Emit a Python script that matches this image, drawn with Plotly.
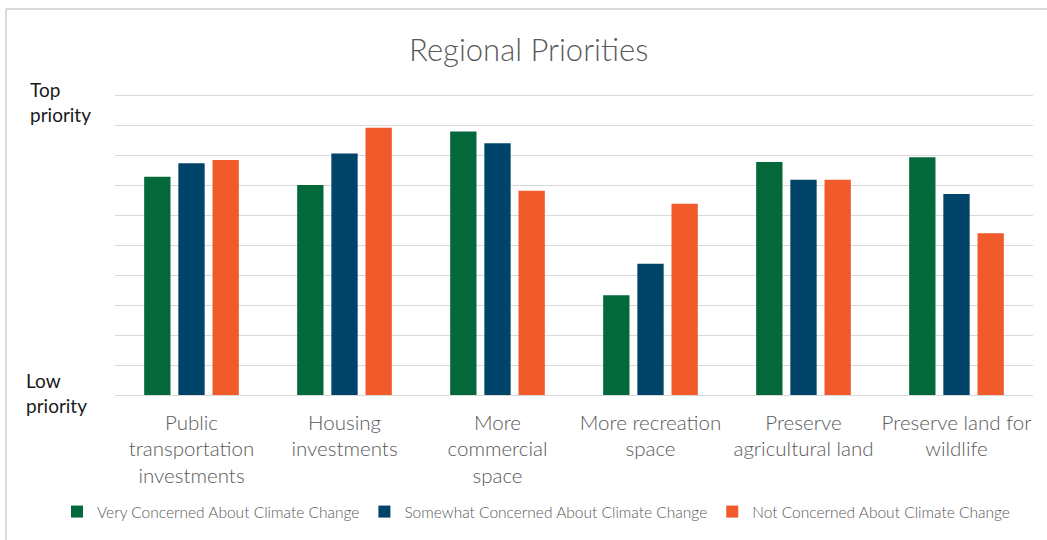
import plotly.graph_objects as go

# Survey results: average priority score (0 = low priority, 10 = top priority)
categories = [
    "Public<br>transportation<br>investments",
    "Housing<br>investments",
    "More<br>commercial<br>space",
    "More recreation<br>space",
    "Preserve<br>agricultural land",
    "Preserve land for<br>wildlife",
]
very_concerned = [7.30, 7.02, 8.81, 3.34, 7.79, 7.95]
somewhat_concerned = [7.75, 8.08, 8.42, 4.39, 7.20, 6.72]
not_concerned = [7.86, 8.94, 6.83, 6.40, 7.20, 5.41]

series_names = [
    "Very Concerned About Climate Change",
    "Somewhat Concerned About Climate Change",
    "Not Concerned About Climate Change",
]
series_values = [very_concerned, somewhat_concerned, not_concerned]
series_colors = ["#03693A", "#00446A", "#F15A2B"]

FONT = "Lato, 'Open Sans', sans-serif"

fig = go.Figure()
for name, vals, color in zip(series_names, series_values, series_colors):
    fig.add_trace(go.Bar(
        x=categories, y=vals, name=name,
        marker=dict(color=color, line=dict(width=0)),
    ))

W, H = 1047, 540
Y_MAX = 10.1
ml, mr, mt, mb = 115, 14, 93, 145
pw = W - ml - mr
ph = H - mt - mb


def px_to_paper_x(px):
    return (px - ml) / pw


def px_to_paper_y(py):
    return (H - mb - py) / ph


fig.update_layout(
    width=W, height=H,
    margin=dict(l=ml, r=mr, t=mt, b=mb, autoexpand=False),
    paper_bgcolor="white", plot_bgcolor="white",
    barmode="group", bargap=0.33, bargroupgap=0.23,
    title=dict(text="Regional Priorities", x=0.505, xanchor="center",
               y=1 - 50 / H, yanchor="middle",
               font=dict(family=FONT, size=31, color="#595959", weight=300)),
    font=dict(family=FONT, color="#595959"),
    xaxis=dict(showgrid=False, showline=False, ticks="", automargin=False,
               ticklabelstandoff=13,
               tickfont=dict(family=FONT, size=20.5, color="#595959", weight=300)),
    yaxis=dict(range=[0, Y_MAX], dtick=1, showticklabels=False, automargin=False,
               showgrid=True, gridcolor="#d9d9d9", gridwidth=1,
               zeroline=True, zerolinecolor="#d9d9d9", zerolinewidth=1,
               showline=False, ticks=""),
    legend=dict(orientation="h", x=px_to_paper_x(57), xanchor="left",
                y=px_to_paper_y(512), yanchor="middle",
                font=dict(family=FONT, size=15.5, color="#595959", weight=300),
                itemwidth=30, traceorder="normal"),
    showlegend=True,
)

# Endpoint labels for the priority scale
fig.add_annotation(text="Top<br>priority", xref="paper", yref="paper",
                   x=px_to_paper_x(28), y=px_to_paper_y(102),
                   xanchor="left", yanchor="middle", showarrow=False, align="left",
                   font=dict(family=FONT, size=19, color="#1a1a1a"))
fig.add_annotation(text="Low<br>priority", xref="paper", yref="paper",
                   x=px_to_paper_x(24), y=px_to_paper_y(393),
                   xanchor="left", yanchor="middle", showarrow=False, align="left",
                   font=dict(family=FONT, size=19, color="#1a1a1a"))

# Chart frame (top and left edges)
frame = dict(color="#d9d9d9", width=2)
fig.add_shape(type="line", xref="paper", yref="paper",
              x0=px_to_paper_x(6), x1=px_to_paper_x(W + 5),
              y0=px_to_paper_y(9), y1=px_to_paper_y(9), line=frame)
fig.add_shape(type="line", xref="paper", yref="paper",
              x0=px_to_paper_x(6), x1=px_to_paper_x(6),
              y0=px_to_paper_y(9), y1=px_to_paper_y(H + 5), line=frame)

fig.write_html("out.html")
